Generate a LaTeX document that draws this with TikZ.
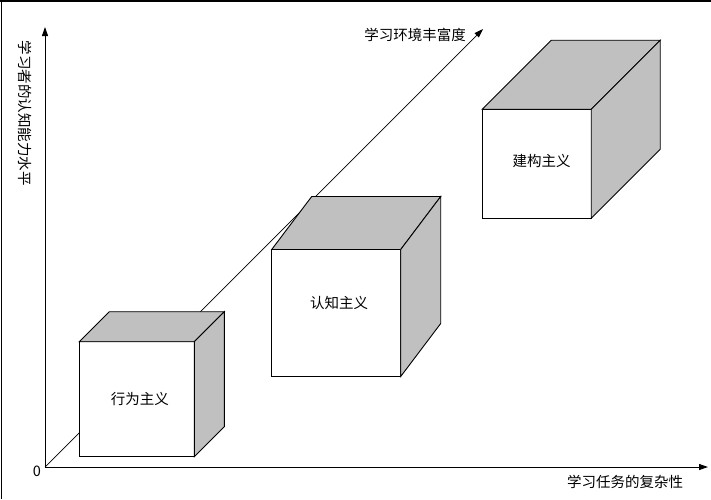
\documentclass[tikz,border=0pt]{standalone}
\usepackage{fontspec}
\usepackage{xcolor}
\usetikzlibrary{arrows.meta, positioning, calc}
\newfontfamily\cjk{Noto Sans CJK SC}
\definecolor{cubegray}{RGB}{192,192,192}

\tikzset{
    lbl/.style={font=\cjk\fontsize{14.5}{17}\selectfont, inner sep=0pt},
    front/.style={draw=black, fill=white, line width=0.9pt, inner sep=0pt, outer sep=0pt},
    shade/.style={draw=black, fill=cubegray, line width=0.9pt, line join=miter},
    axis/.style={line width=0.9pt, -{Triangle[length=9pt, width=6pt]}}
}

\begin{document}
\begin{tikzpicture}[x=1pt, y=-1pt]
    \useasboundingbox (0,0) rectangle (711,499);
    % Frame (top and left edge only)
    \draw[line width=2pt] (0,1) -- (711,1);
    \draw[line width=1pt] (1.5,0) -- (1.5,499);

    % Axes
    \coordinate (O) at (45,467);
    \coordinate (xend) at (708,467);
    \coordinate (yend) at (45,27);
    \coordinate (dend) at (483,29);
    \draw[axis] (O) -- (xend);
    \draw[axis] (O) -- (yend);
    \draw[line width=0.7pt, -{Triangle[length=9pt, width=6pt]}] (O) -- (dend);

    % Axis labels
    \node[lbl] (zero) at (37,471) {0};
    \node[lbl] (xlab) at (625,482) {学习任务的复杂性};
    \node[lbl] (dlab) at (415,35) {学习环境丰富度};
    \node[lbl, rotate=-90] (ylab) at (25,113) {学习者的认知能力水平};

    % Cube 1
    \node[front, minimum width=115pt, minimum height=115pt] (behav) at (136.8,399.2) {};
    \draw[shade] (behav.north west) -- ++(30,-30) -- ++(115,0) -- (behav.north east) -- cycle;
    \draw[shade] (behav.north east) -- ++(30,-30) -- ++(0,115) -- (behav.south east) -- cycle;
    \node[lbl] (behavtxt) at ([xshift=3pt]behav.center) {行为主义};

    % Cube 2
    \node[front, minimum width=129pt, minimum height=127pt] (cogn) at (336.2,313) {};
    \draw[shade] (cogn.north west) -- ++(40,-53) -- ++(129,0) -- (cogn.north east) -- cycle;
    \draw[shade] (cogn.north east) -- ++(40,-53) -- ++(0,127) -- (cogn.south east) -- cycle;
    \node[lbl] (cogntxt) at ([xshift=3pt, yshift=10pt]cogn.center) {认知主义};

    % Cube 3
    \node[front, minimum width=109pt, minimum height=109pt] (constr) at (536.7,163.7) {};
    \draw[shade] (constr.north west) -- ++(69,-69) -- ++(109,0) -- (constr.north east) -- cycle;
    \draw[shade] (constr.north east) -- ++(69,-69) -- ++(0,109) -- (constr.south east) -- cycle;
    \node[lbl] (constrtxt) at ([xshift=5pt, yshift=3pt]constr.center) {建构主义};

\end{tikzpicture}
\end{document}
